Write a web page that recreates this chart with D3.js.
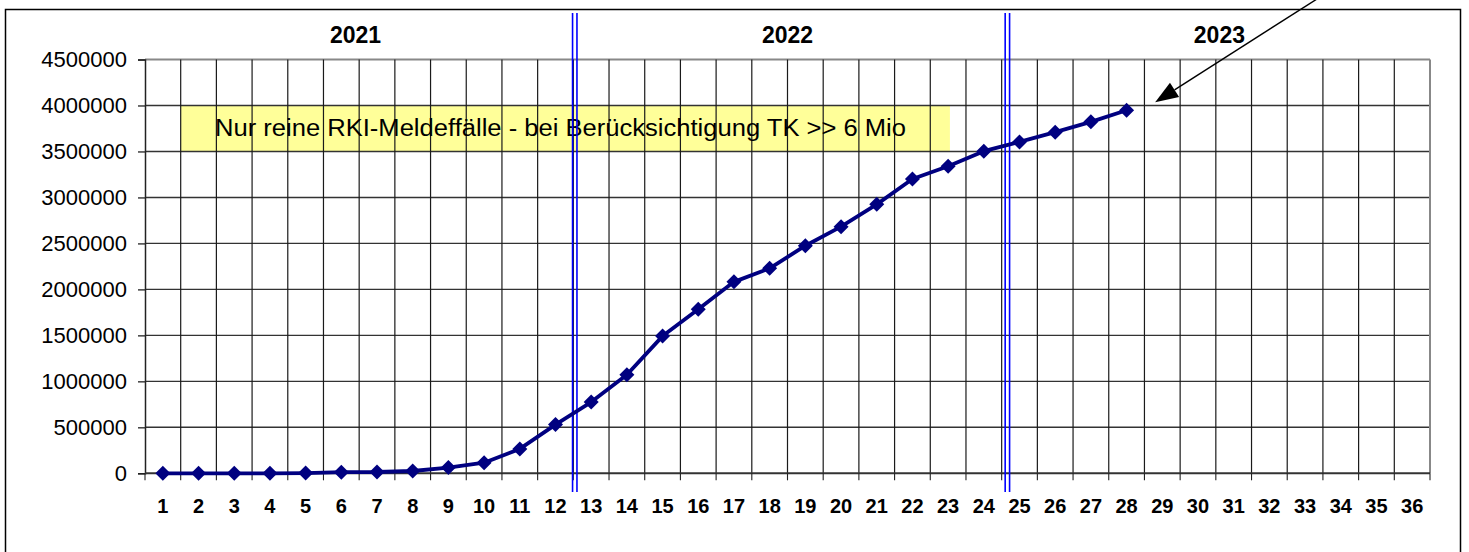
<!DOCTYPE html>
<html>
<head>
<meta charset="utf-8">
<script src="https://cdn.jsdelivr.net/npm/d3@7"></script>
<style>
  html, body { margin: 0; padding: 0; background: #fff; }
  svg { display: block; font-family: Arial, "Liberation Sans", sans-serif; }
</style>
</head>
<body>
<svg id="chart" width="1469" height="552"></svg>
<script>
// Calendar weeks shown on the x axis (three 12-week blocks)
const weeks = d3.range(1, 37);
// Cumulative reported cases per week
const caseWeeks = d3.range(1, 29);
const cases = [
  0, 0, 0, 0, 2000, 12000, 14000, 25000, 62000, 115000,
  265000, 530000, 775000, 1072000, 1492000, 1783000, 2082000, 2229000,
  2475000, 2682000, 2925000, 3200000, 3340000, 3503000, 3604000, 3710000,
  3822000, 3948000
];
const yTicks = [0, 500000, 1000000, 1500000, 2000000, 2500000, 3000000, 3500000, 4000000, 4500000];
const years = ["2021", "2022", "2023"];
const yearCenters = [6.4, 18.5, 30.6];
const yearBreaks = [12.54, 24.66];
const noteText = "Nur reine RKI-Meldeffälle - bei Berücksichtigung TK >> 6 Mio";

const svg = d3.select("#chart");
const plot = { left: 145, right: 1430, top: 59.5, bottom: 473.3 };

// Continuous scale over week slots so gridlines fall between weeks
const x = d3.scaleLinear().domain([0.5, 36.5]).range([plot.left, plot.right]);
const y = d3.scaleLinear().domain([0, 4500000]).range([plot.bottom, plot.top]);

// Outer frame
svg.append("rect")
  .attr("x", 5.5).attr("y", 9.5)
  .attr("width", 1455).attr("height", 560)
  .attr("fill", "none").attr("stroke", "#000").attr("stroke-width", 1.5);

// Note box spanning the 3.5M–4M band
const noteBox = { x0: 1.5, x1: 23.05, v0: 3500000, v1: 4000000 };
svg.append("rect")
  .attr("x", x(noteBox.x0)).attr("y", y(noteBox.v1))
  .attr("width", x(noteBox.x1) - x(noteBox.x0))
  .attr("height", y(noteBox.v0) - y(noteBox.v1))
  .attr("fill", "#ffff99");

// Horizontal gridlines
svg.append("g").selectAll("line")
  .data(yTicks.filter(d => d > 0))
  .join("line")
  .attr("x1", plot.left).attr("x2", plot.right)
  .attr("y1", d => y(d)).attr("y2", d => y(d))
  .attr("stroke", d => d === 4500000 ? "#888" : "#333")
  .attr("stroke-width", d => d === 4500000 ? 2 : 1.4);

// Vertical gridlines between weeks
const bounds = d3.range(1.5, 36.5, 1);
svg.append("g").selectAll("line")
  .data(bounds)
  .join("line")
  .attr("x1", d => x(d)).attr("x2", d => x(d))
  .attr("y1", plot.top).attr("y2", plot.bottom)
  .attr("stroke", "#1a1a1a").attr("stroke-width", 1.2);

// Right border of plot area
svg.append("line")
  .attr("x1", plot.right).attr("x2", plot.right)
  .attr("y1", plot.top).attr("y2", plot.bottom)
  .attr("stroke", "#888").attr("stroke-width", 2);

// Note text
svg.append("text")
  .attr("x", 215).attr("y", y(3750000) + 8)
  .attr("font-size", 23)
  .attr("textLength", 691).attr("lengthAdjust", "spacingAndGlyphs")
  .attr("fill", "#000")
  .text(noteText);

// Y axis
const yAxis = d3.axisLeft(y).tickValues(yTicks).tickSize(7).tickPadding(11)
  .tickFormat(d3.format("d"));
const gy = svg.append("g").attr("transform", `translate(${plot.left},0)`).call(yAxis);
gy.select(".domain").attr("stroke", "#222").attr("stroke-width", 1.5);
gy.selectAll(".tick line").attr("stroke", "#222").attr("stroke-width", 1.3);
gy.selectAll(".tick text").attr("font-size", 22).attr("font-family", "Arial, 'Liberation Sans', sans-serif")
  .attr("fill", "#000");

// X axis: ticks at week boundaries, labels at week centres
const gx = svg.append("g").attr("transform", `translate(0,${plot.bottom})`);
gx.append("line").attr("x1", plot.left).attr("x2", plot.right)
  .attr("stroke", "#333").attr("stroke-width", 2);
gx.selectAll("line.tk")
  .data(d3.range(0.5, 37, 1))
  .join("line").attr("class", "tk")
  .attr("x1", d => x(d)).attr("x2", d => x(d))
  .attr("y1", 0).attr("y2", 7)
  .attr("stroke", "#222").attr("stroke-width", 1.1);
gx.selectAll("text")
  .data(weeks)
  .join("text")
  .attr("x", d => x(d)).attr("y", 40)
  .attr("text-anchor", "middle")
  .attr("font-size", 20).attr("font-weight", "bold")
  .attr("fill", "#000")
  .text(d => d);

// Year separators (double blue lines)
yearBreaks.forEach(b => {
  [-2.2, 2.2].forEach(off => {
    svg.append("line")
      .attr("x1", x(b) + off).attr("x2", x(b) + off)
      .attr("y1", 13).attr("y2", 492)
      .attr("stroke", "#0000ff").attr("stroke-width", 1.6);
  });
});

// Year labels
svg.append("g").selectAll("text")
  .data(years)
  .join("text")
  .attr("x", (d, i) => x(yearCenters[i])).attr("y", 43)
  .attr("text-anchor", "middle")
  .attr("font-size", 23).attr("font-weight", "bold")
  .attr("fill", "#000")
  .text(d => d);

// Case series
const series = caseWeeks.map((w, i) => ({ w, v: cases[i] }));
svg.append("path")
  .datum(series)
  .attr("fill", "none").attr("stroke", "#000080").attr("stroke-width", 3.8)
  .attr("stroke-linejoin", "round")
  .attr("d", d3.line().x(d => x(d.w)).y(d => y(d.v)));

const h = 7.5;
svg.append("g").selectAll("path")
  .data(series)
  .join("path")
  .attr("transform", d => `translate(${x(d.w)},${y(d.v)})`)
  .attr("d", `M0,${-h}L${h},0L0,${h}L${-h},0Z`)
  .attr("fill", "#000080");

// Pointer arrow towards the next data point
const tip = [x(28.8), y(4036000)];
const dir = [160, -102];
const len = Math.hypot(dir[0], dir[1]);
const u = [dir[0] / len, dir[1] / len];
const tail = [tip[0] + u[0] * 210, tip[1] + u[1] * 210];
const headLen = 23, headHalf = 8.5;
const base = [tip[0] + u[0] * headLen, tip[1] + u[1] * headLen];
const perp = [-u[1], u[0]];
svg.append("line")
  .attr("x1", base[0]).attr("y1", base[1])
  .attr("x2", tail[0]).attr("y2", tail[1])
  .attr("stroke", "#000").attr("stroke-width", 1.4);
svg.append("path")
  .attr("d", `M${tip[0]},${tip[1]}L${base[0] + perp[0] * headHalf},${base[1] + perp[1] * headHalf}L${base[0] - perp[0] * headHalf},${base[1] - perp[1] * headHalf}Z`)
  .attr("fill", "#000");
</script>
</body>
</html>
